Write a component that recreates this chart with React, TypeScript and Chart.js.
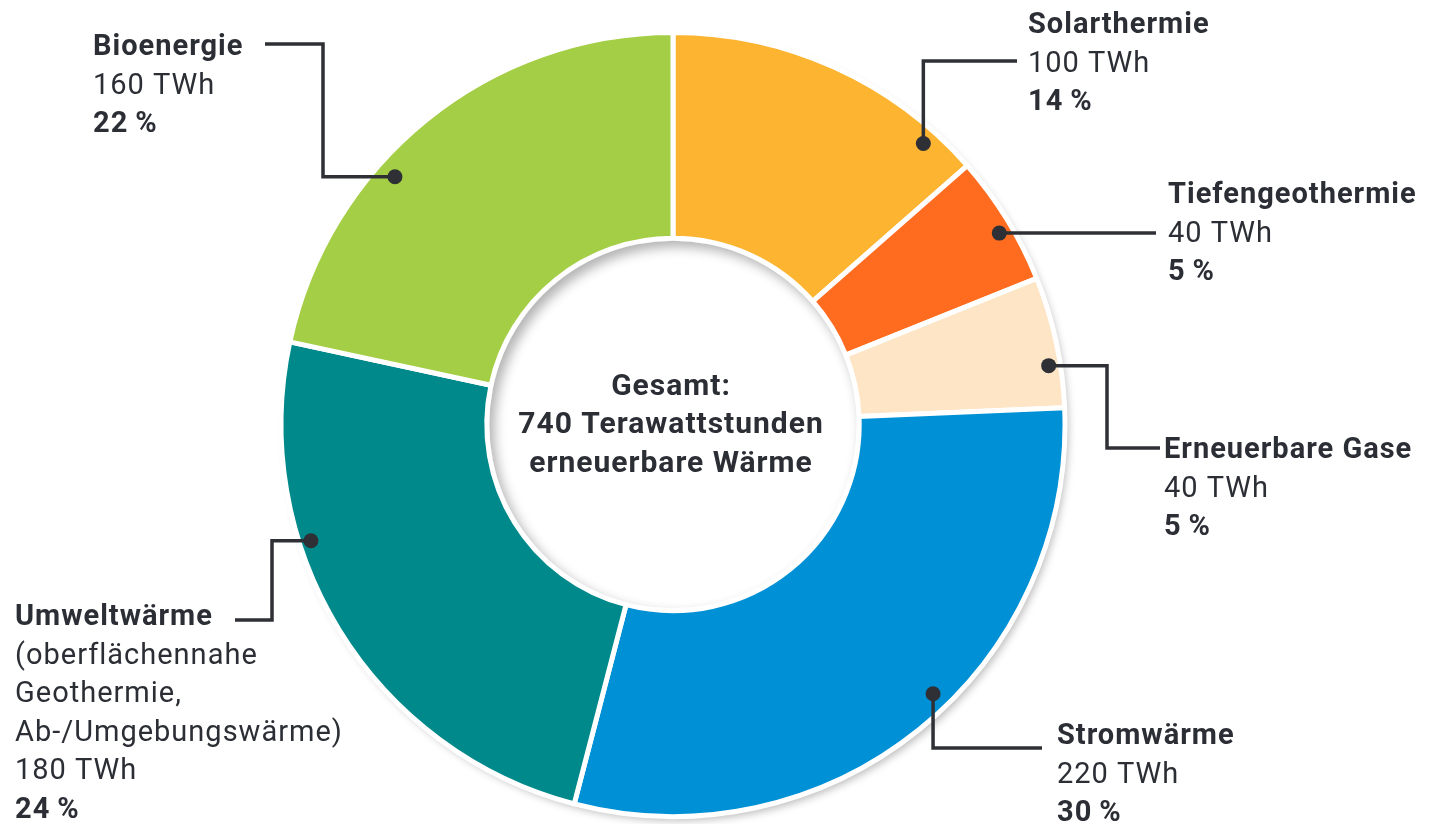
import React, { useEffect, useRef } from "react";
import { Chart, registerables } from "chart.js";

Chart.register(...registerables);

// ---- data ----
const categories = [
  "Solarthermie",
  "Tiefengeothermie",
  "Erneuerbare Gase",
  "Stromwärme",
  "Umweltwärme",
  "Bioenergie",
];
const valuesTWh = [100, 40, 40, 220, 180, 160];
const percentLabels = ["14\u2009%", "5\u2009%", "5\u2009%", "30\u2009%", "24\u2009%", "22\u2009%"];
const subLines: string[][] = [
  [],
  [],
  [],
  [],
  ["(oberflächennahe", "Geothermie,", "Ab-/Umgebungswärme)"],
  [],
];
const centerLines = ["Gesamt:", "740 Terawattstunden", "erneuerbare Wärme"];
const sliceColors = ["#FDB431", "#FF6C1F", "#FDE5C6", "#0090D5", "#00898A", "#A4CE45"];

// ---- label layout (positions only) ----
type Step = { axis: "h" | "v"; to: number };
const labelLayout: { x: number; y: number; dotAngle: number; dotR: number; path: Step[] }[] = [
  { x: 1028, y: 33, dotAngle: 41.7, dotR: 0.96, path: [{ axis: "v", to: 61 }, { axis: "h", to: 1017 }] },
  { x: 1168, y: 203, dotAngle: 59.6, dotR: 0.965, path: [{ axis: "h", to: 1156 }] },
  { x: 1164, y: 458, dotAngle: 81.1, dotR: 0.97, path: [{ axis: "h", to: 1107 }, { axis: "v", to: 448 }, { axis: "h", to: 1160 }] },
  { x: 1057, y: 744, dotAngle: 136, dotR: 0.955, path: [{ axis: "v", to: 748 }, { axis: "h", to: 1042 }] },
  { x: 15, y: 625, dotAngle: 252.2, dotR: 0.97, path: [{ axis: "h", to: 272 }, { axis: "v", to: 620 }, { axis: "h", to: 235 }] },
  { x: 93, y: 55, dotAngle: 311.7, dotR: 0.95, path: [{ axis: "h", to: 323 }, { axis: "v", to: 44 }, { axis: "h", to: 265 }] },
];
const LINE_H = 38.5;
const TEXT_COLOR = "#2B2E34";
const FONT = "Roboto, 'DejaVu Sans', sans-serif";

const decorPlugin = {
  id: "decor",
  beforeDatasetsDraw(chart: any) {
    const arc = chart.getDatasetMeta(0).data[0];
    if (!arc) return;
    const ctx = chart.ctx;
    ctx.save();
    ctx.shadowColor = "rgba(0,0,0,0.28)";
    ctx.shadowBlur = 8;
    ctx.shadowOffsetX = 4;
    ctx.shadowOffsetY = 5;
    ctx.fillStyle = "#ffffff";
    ctx.beginPath();
    ctx.arc(arc.x, arc.y, arc.outerRadius - 1, 0, Math.PI * 2);
    ctx.fill();
    ctx.restore();
  },
  afterDatasetsDraw(chart: any) {
    const meta = chart.getDatasetMeta(0);
    const arc0 = meta.data[0];
    if (!arc0) return;
    const ctx = chart.ctx;
    const cx = arc0.x;
    const cy = arc0.y;
    const rIn = arc0.innerRadius - 2.5;

    // inner shadow in the hole
    ctx.save();
    ctx.beginPath();
    ctx.arc(cx, cy, rIn, 0, Math.PI * 2);
    ctx.clip();
    ctx.shadowColor = "rgba(0,0,0,0.30)";
    ctx.shadowBlur = 12;
    ctx.shadowOffsetX = 5;
    ctx.shadowOffsetY = 6;
    ctx.fillStyle = "#ffffff";
    ctx.beginPath();
    ctx.rect(cx - rIn - 60, cy - rIn - 60, rIn * 2 + 120, rIn * 2 + 120);
    ctx.arc(cx, cy, rIn, 0, Math.PI * 2, true);
    ctx.fill("evenodd");
    ctx.restore();

    // center text
    ctx.save();
    ctx.fillStyle = TEXT_COLOR;
    ctx.textAlign = "center";
    ctx.textBaseline = "alphabetic";
    ctx.font = `700 30px ${FONT}`;
    (ctx as any).letterSpacing = "1px";
    const baseY = [395, 433, 472];
    centerLines.forEach((t, i) => ctx.fillText(t, cx - 2, baseY[i]));
    ctx.restore();

    // labels with leader lines
    labelLayout.forEach((lay, i) => {
      const el = meta.data[i];
      if (!el) return;
      const th = (lay.dotAngle * Math.PI) / 180;
      const r = el.outerRadius * lay.dotR;
      const dx = el.x + r * Math.sin(th);
      const dy = el.y - r * Math.cos(th);

      ctx.save();
      ctx.strokeStyle = "#2E3035";
      ctx.lineWidth = 3.5;
      ctx.lineJoin = "miter";
      ctx.beginPath();
      let px = dx;
      let py = dy;
      ctx.moveTo(px, py);
      lay.path.forEach((s) => {
        if (s.axis === "h") px = s.to;
        else py = s.to;
        ctx.lineTo(px, py);
      });
      ctx.stroke();
      ctx.fillStyle = "#2E3035";
      ctx.beginPath();
      ctx.arc(dx, dy, 7.5, 0, Math.PI * 2);
      ctx.fill();

      ctx.fillStyle = TEXT_COLOR;
      ctx.textAlign = "left";
      ctx.textBaseline = "alphabetic";
      let y = lay.y;
      ctx.font = `700 29px ${FONT}`;
      (ctx as any).letterSpacing = "1px";
      ctx.fillText(categories[i], lay.x, y);
      ctx.font = `400 29px ${FONT}`;
      (ctx as any).letterSpacing = "1px";
      subLines[i].forEach((t) => {
        y += LINE_H;
        ctx.fillText(t, lay.x, y);
      });
      y += LINE_H;
      ctx.fillText(`${valuesTWh[i]} TWh`, lay.x, y);
      y += LINE_H;
      ctx.font = `700 29px ${FONT}`;
      (ctx as any).letterSpacing = "1px";
      ctx.fillText(percentLabels[i], lay.x, y);
      ctx.restore();
    });
  },
};

export default function App() {
  const ref = useRef<HTMLCanvasElement | null>(null);
  useEffect(() => {
    document.body.style.margin = "0";
    const canvas = ref.current;
    if (!canvas) return;
    const chart = new Chart(canvas, {
      type: "doughnut",
      data: {
        labels: categories,
        datasets: [
          {
            data: valuesTWh,
            backgroundColor: sliceColors,
            borderColor: "#ffffff",
            borderWidth: 5,
            hoverOffset: 0,
          },
        ],
      },
      options: {
        responsive: false,
        animation: false,
        cutout: "47.5%",
        layout: { padding: { top: 30, bottom: 5, left: 0, right: 89 } },
        plugins: {
          legend: { display: false },
          tooltip: { enabled: false },
        },
      },
      plugins: [decorPlugin],
    });
    return () => chart.destroy();
  }, []);
  return (
    <div style={{ width: 1435, height: 824, background: "#fff" }}>
      <canvas ref={ref} width={1435} height={824} style={{ display: "block" }} />
    </div>
  );
}
